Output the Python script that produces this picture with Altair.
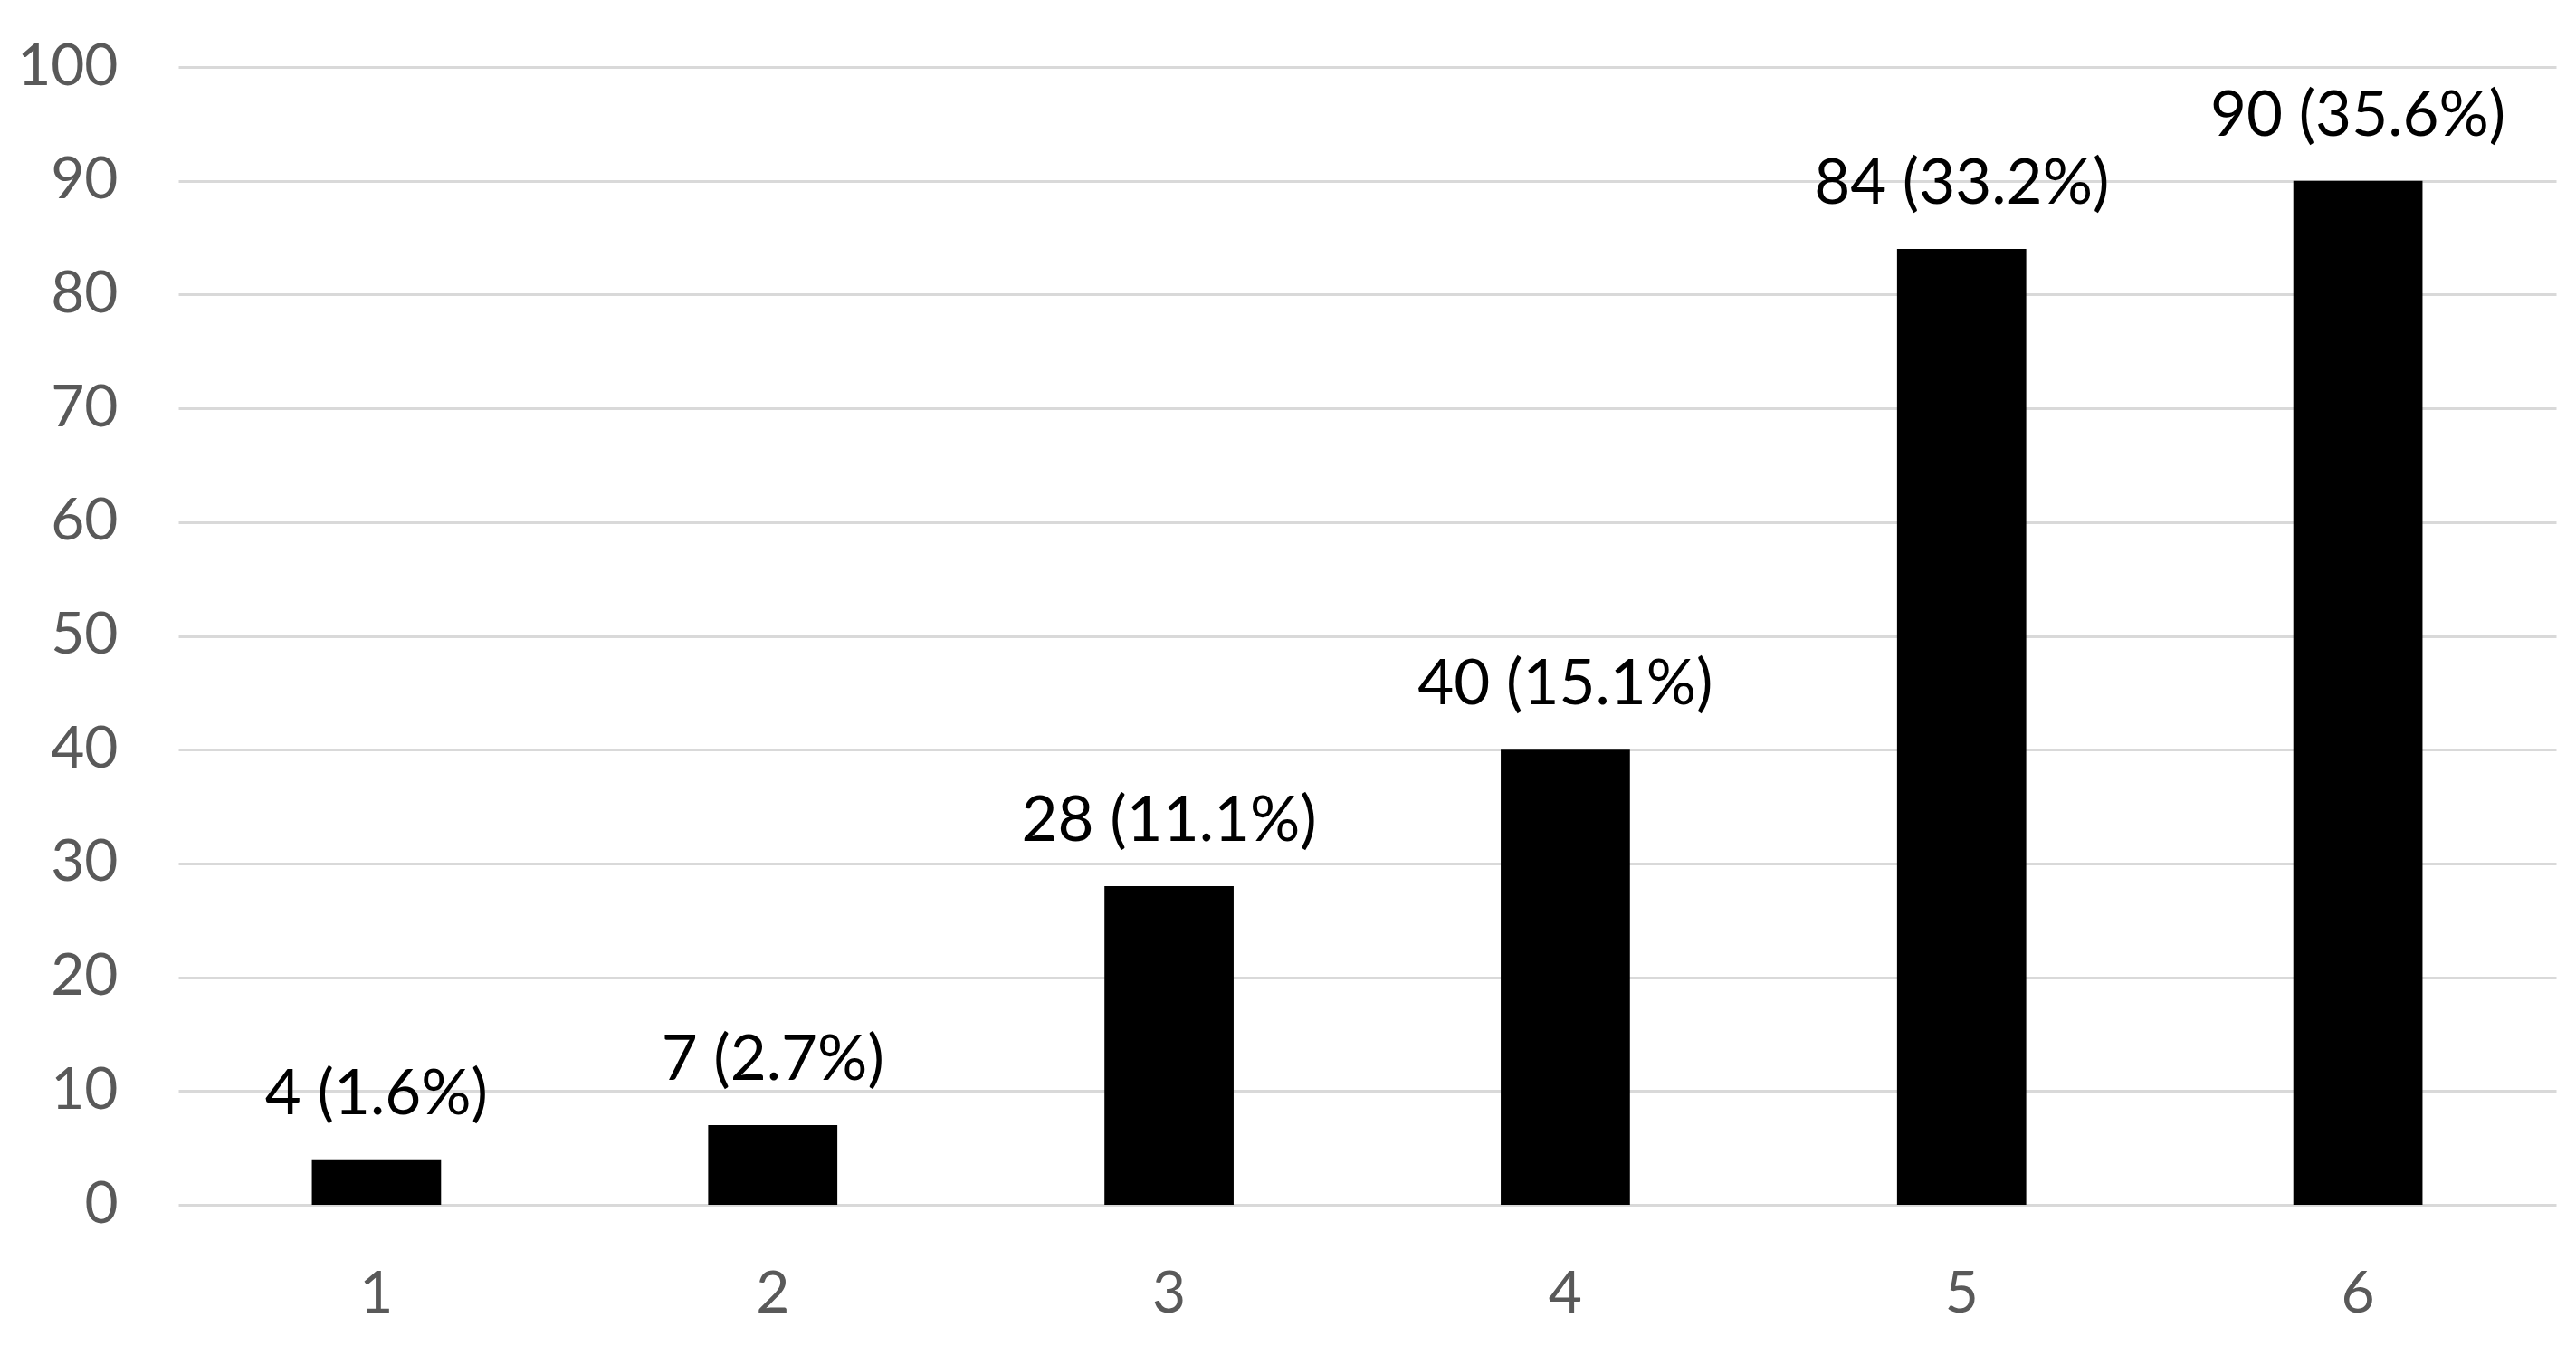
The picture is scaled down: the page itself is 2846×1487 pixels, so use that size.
import altair as alt
import pandas as pd

categories = ["1", "2", "3", "4", "5", "6"]
counts = [4, 7, 28, 40, 84, 90]
percents = ["1.6%", "2.7%", "11.1%", "15.1%", "33.2%", "35.6%"]

df = pd.DataFrame({
    "cat": categories,
    "count": counts,
    "label": [f"{c} ({p})" for c, p in zip(counts, percents)],
})

FONT = "Lato"

x = alt.X(
    "cat:N",
    sort=categories,
    scale=alt.Scale(paddingInner=0.674, paddingOuter=0.337),
    axis=alt.Axis(
        title=None, labelAngle=0, ticks=False, tickSize=0, domain=False, grid=False,
        labelFont=FONT, labelFontSize=64, labelColor="#595959", labelPadding=67,
    ),
)
y = alt.Y(
    "count:Q",
    scale=alt.Scale(domain=[0, 100], nice=False),
    axis=alt.Axis(
        title=None, values=list(range(0, 101, 10)), ticks=False, tickSize=0, domain=False,
        grid=True, gridColor="#d9d9d9", gridWidth=3,
        labelFont=FONT, labelFontSize=64, labelColor="#595959", labelPadding=67,
    ),
)

bars = alt.Chart(df).mark_bar(color="#000000").encode(x=x, y=y)

labels = alt.Chart(df).mark_text(
    font=FONT, fontSize=69, color="#000000", baseline="alphabetic", align="center", dy=-50
).encode(x=alt.X("cat:N", sort=categories), y="count:Q", text="label:N")

chart = (
    alt.layer(bars, labels)
    .properties(
        width=2627,
        height=1257,
        autosize=alt.AutoSizeParams(type="none"),
        padding={"left": 189, "top": 66, "right": 14, "bottom": 140},
        background="#ffffff",
    )
    .configure_view(stroke=None)
)

chart.save("out.html", embed_options={"renderer": "svg", "actions": False})
